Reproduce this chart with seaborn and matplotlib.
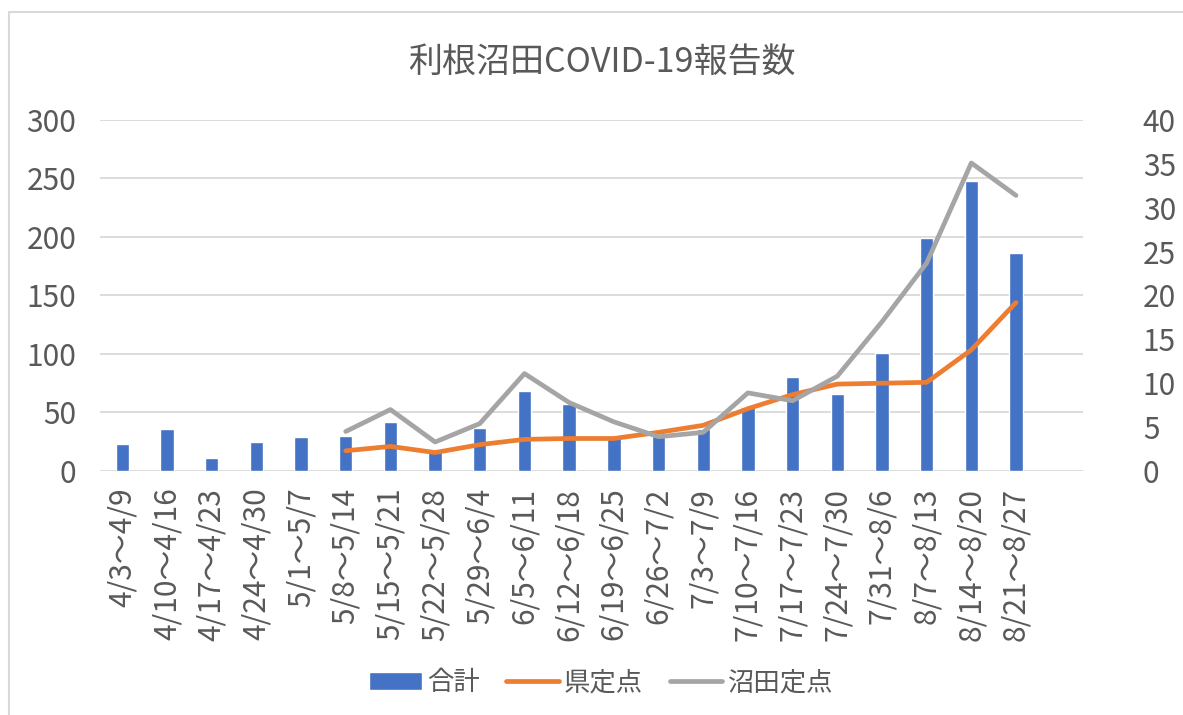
import matplotlib
matplotlib.use("Agg")
import matplotlib.pyplot as plt
import numpy as np
import pandas as pd
import seaborn as sns
from matplotlib.lines import Line2D

### Data
weeks = ["4/3～4/9", "4/10～4/16", "4/17～4/23", "4/24～4/30", "5/1～5/7",
         "5/8～5/14", "5/15～5/21", "5/22～5/28", "5/29～6/4", "6/5～6/11",
         "6/12～6/18", "6/19～6/25", "6/26～7/2", "7/3～7/9", "7/10～7/16",
         "7/17～7/23", "7/24～7/30", "7/31～8/6", "8/7～8/13", "8/14～8/20",
         "8/21～8/27"]
total = [23, 36, 11, 25, 29, 30, 42, 17, 37, 68, 57, 28, 30, 36, 55, 80, 66, 101, 199, 248, 186]
pref_sentinel = [np.nan] * 5 + [2.3, 2.8, 2.1, 3.0, 3.6, 3.7, 3.7, 4.4, 5.2, 7.1, 8.7, 9.9, 10.0, 10.1, 13.8, 19.2]
numata_sentinel = [np.nan] * 5 + [4.5, 7.0, 3.3, 5.4, 11.1, 7.8, 5.6, 3.9, 4.4, 8.9, 8.0, 10.8, 17.0, 23.7, 35.1, 31.4]

title = "利根沼田COVID-19報告数"
labels = ["合計", "県定点", "沼田定点"]
colors = ["#4472C4", "#ED7D31", "#A5A5A5"]
text_color = "#595959"

sns.set_theme(style="white")
plt.rcParams['font.family'] = ['Noto Sans CJK JP', 'DejaVu Sans']

df = pd.DataFrame({"week": weeks, "pos": np.arange(len(weeks)),
                   "total": total, "pref": pref_sentinel, "numata": numata_sentinel})

fig = plt.figure(figsize=(11.83, 7.15), dpi=100)
ax = fig.add_axes([0.0845, 0.3413, 0.831, 0.4909])
ax2 = ax.twinx()

# bars on left axis
sns.barplot(data=df, x="pos", y="total", color=colors[0], width=0.3,
            saturation=1, ax=ax, label=labels[0], native_scale=True)

# lines on right axis
lines = df.dropna()
sns.lineplot(data=lines, x="pos", y="pref", color=colors[1], lw=3.4, ax=ax2,
             label=labels[1], solid_capstyle="round")
sns.lineplot(data=lines, x="pos", y="numata", color=colors[2], lw=3.4, ax=ax2,
             label=labels[2], solid_capstyle="round")

ax.set_xlim(-0.5, len(weeks) + 0.5)
ax.set_ylim(0, 300)
ax2.set_ylim(0, 40)
ax.set_yticks(np.arange(0, 301, 50))
ax2.set_yticks(np.arange(0, 41, 5))
ax.set_xticks(df["pos"])
ax.set_xticklabels(weeks, rotation=90)

ax.yaxis.grid(True, color="#D9D9D9", lw=1.3)
ax.set_axisbelow(True)
for a in (ax, ax2):
    for s in a.spines.values():
        s.set_visible(False)
    a.set_xlabel("")
    a.set_ylabel("")
    a.tick_params(length=0, labelsize=21.5, colors=text_color)
ax.tick_params(axis="y", pad=17)
ax2.tick_params(axis="y", pad=43)
ax.tick_params(axis="x", pad=12)

# legend under the chart
h1, l1 = ax.get_legend_handles_labels()
h2, l2 = ax2.get_legend_handles_labels()
for a in (ax, ax2):
    if a.get_legend():
        a.get_legend().remove()
fig.legend(h1 + h2, l1 + l2, loc="center", bbox_to_anchor=(0.508, 0.045), ncol=3,
           frameon=False, fontsize=19, labelcolor=text_color,
           handlelength=2.0, columnspacing=1.0, handletextpad=0.2)

fig.text(0.509, 0.913, title, ha="center", va="center", fontsize=24.5, color=text_color)

# chart frame (left and top edges visible in the reference)
fig.add_artist(Line2D([0.008, 0.008], [0.0, 0.983], transform=fig.transFigure,
                      color="#D9D9D9", lw=1.5))
fig.add_artist(Line2D([0.008, 1.0], [0.983, 0.983], transform=fig.transFigure,
                      color="#D9D9D9", lw=1.5))

fig.savefig("out.png", dpi=100)
